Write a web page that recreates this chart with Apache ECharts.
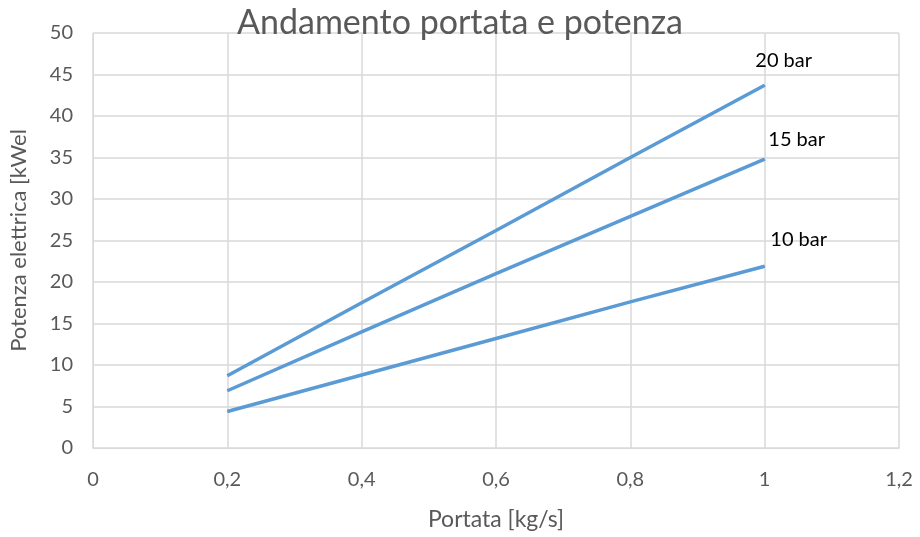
<!DOCTYPE html>
<html><head><meta charset="utf-8">
<script src="https://cdn.jsdelivr.net/npm/echarts@6/dist/echarts.min.js"></script>
<style>html,body{margin:0;padding:0;background:#fff}#c{width:920px;height:537px}</style>
</head><body><div id="c"></div>
<script>
const portata = [0.2, 0.4, 0.6, 0.8, 1.0];
const bar20 = [8.7, 17.5, 26.2, 35.0, 43.7];
const bar15 = [6.9, 14.0, 21.0, 27.9, 34.8];
const bar10 = [4.4, 8.8, 13.2, 17.6, 21.9];
const seriesNames = ['20 bar', '15 bar', '10 bar'];
const labelOffsets = [[19, -25], [32, -20], [34, -27]];

const font = 'Lato, "Open Sans", sans-serif';
const grey = '#595959';
function mk(vals, i) {
  return {
    name: seriesNames[i], type: 'line', showSymbol: true, symbol: 'circle', symbolSize: 1,
    lineStyle: {color: '#5B9BD5', width: 3.5}, itemStyle: {color: '#5B9BD5'},
    label: {show: false},
    data: vals.map((v, k) => {
      const d = {value: [portata[k], v]};
      if (k === vals.length - 1) d.label = {show: true, formatter: seriesNames[i], position: 'inside', offset: labelOffsets[i], color: '#000', fontSize: 20, fontFamily: font};
      return d;
    }),
    animation: false
  };
}
const chart = echarts.init(document.getElementById('c'));
chart.setOption({
  animation: false,
  title: {text: 'Andamento portata e potenza', left: 'center', top: 1, textStyle: {fontSize: 34, fontWeight: 'normal', color: grey, fontFamily: font}},
  grid: {left: 93, right: 21, top: 33, bottom: 89},
  xAxis: {type: 'value', min: 0, max: 1.2, interval: 0.2,
    name: 'Portata [kg/s]', nameLocation: 'middle', nameGap: 60, nameTextStyle: {fontSize: 23, color: grey, fontFamily: font},
    axisLine: {show: true, lineStyle: {color: '#d9d9d9'}}, axisTick: {show: false},
    axisLabel: {fontSize: 20, color: grey, fontFamily: font, margin: 22, formatter: v => String(Math.round(v*10)/10).replace('.', ',')},
    splitLine: {show: true, lineStyle: {color: '#d9d9d9', width: 1.5}}},
  yAxis: {type: 'value', min: 0, max: 50, interval: 5,
    name: 'Potenza elettrica [kWel', nameLocation: 'middle', nameGap: 63, nameTextStyle: {fontSize: 22, color: grey, fontFamily: font},
    axisLine: {show: true, lineStyle: {color: '#d9d9d9'}}, axisTick: {show: false},
    axisLabel: {fontSize: 20, color: grey, fontFamily: font, margin: 20},
    splitLine: {show: true, lineStyle: {color: '#d9d9d9', width: 1.5}}},
  series: [mk(bar20, 0), mk(bar15, 1), mk(bar10, 2)]
});
</script></body></html>
